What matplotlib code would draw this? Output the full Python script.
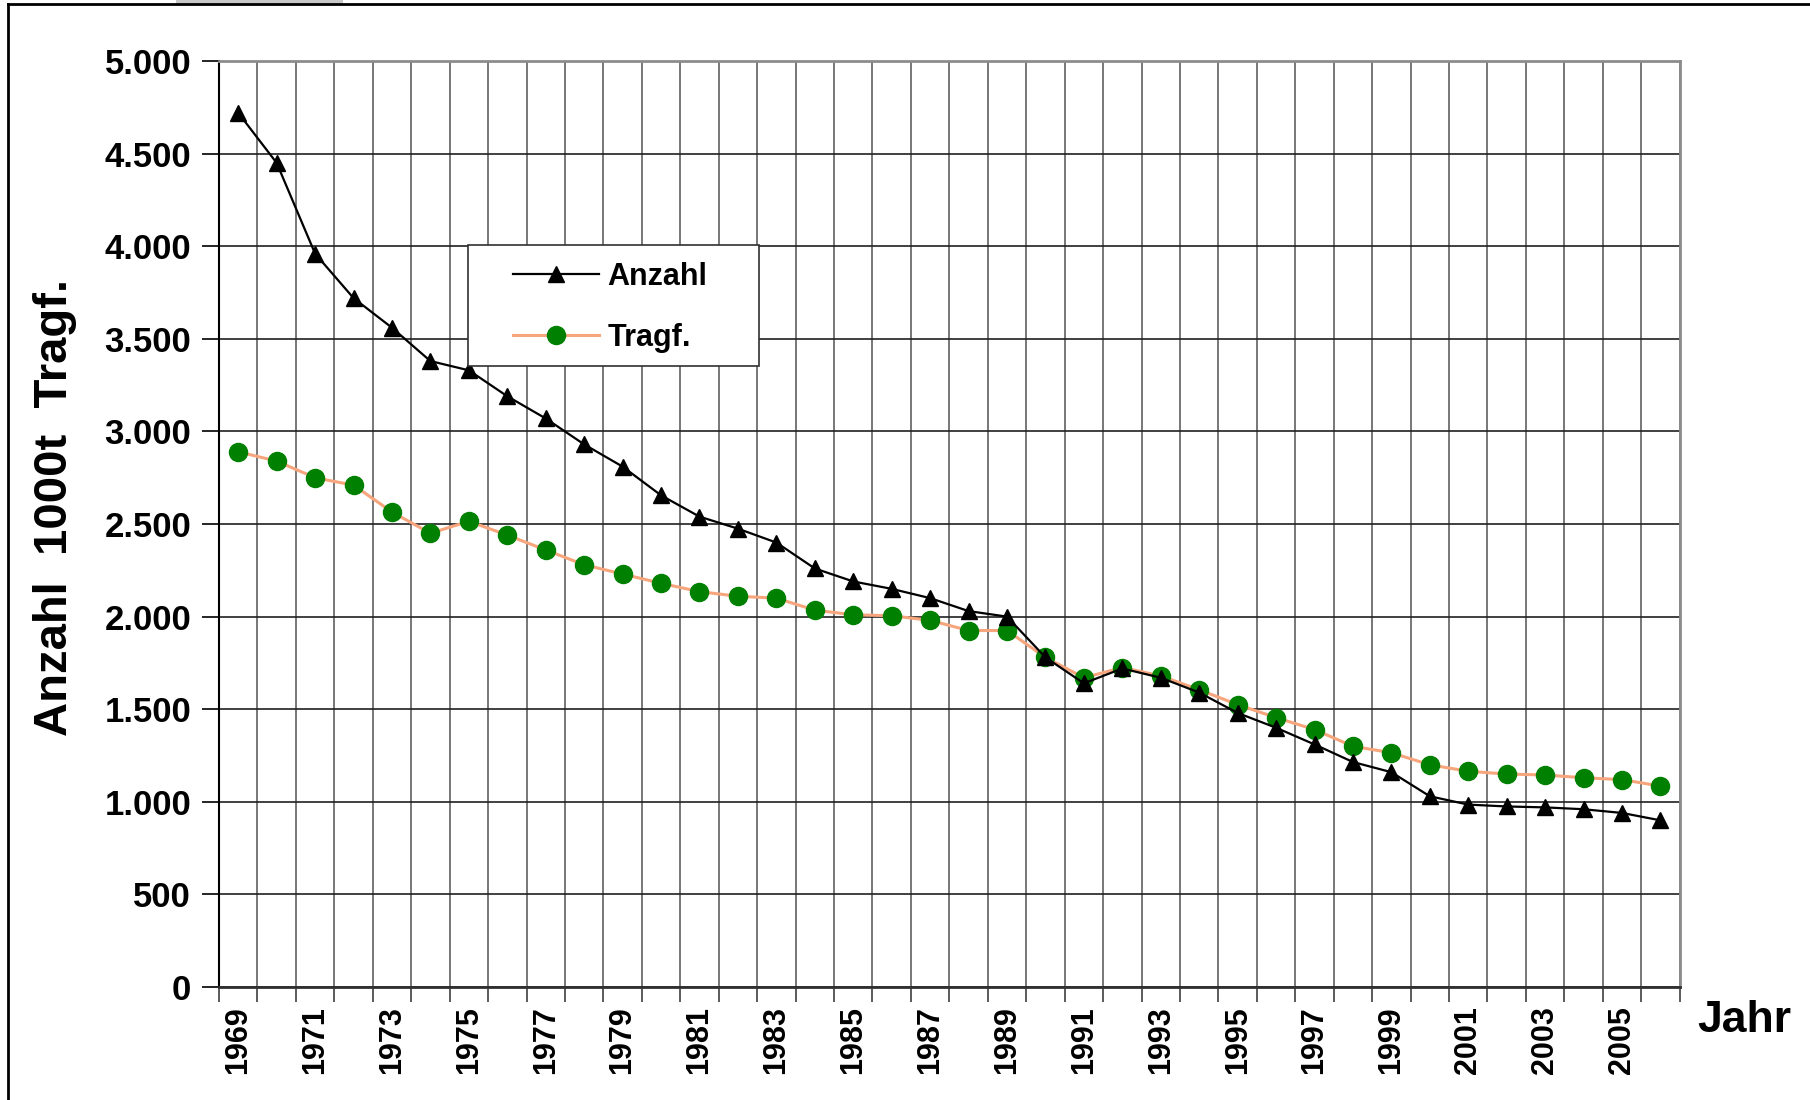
import numpy as np
import matplotlib.pyplot as plt
from matplotlib.ticker import FuncFormatter, FixedLocator
from matplotlib.patches import Rectangle
from matplotlib.lines import Line2D

plt.rcParams['font.family'] = ['Liberation Sans', 'DejaVu Sans']
plt.rcParams['font.weight'] = 'bold'

# Data
years = np.arange(1969, 2007)
anzahl = [4720, 4450, 3960, 3720, 3560, 3380, 3330, 3190, 3070, 2930,
          2810, 2655, 2540, 2475, 2400, 2260, 2190, 2150, 2100, 2030,
          2000, 1780, 1640, 1720, 1670, 1590, 1480, 1400, 1310, 1215,
          1160, 1030, 985, 975, 970, 960, 940, 900]
tragf = [2890, 2840, 2750, 2710, 2565, 2450, 2515, 2440, 2360, 2280,
         2230, 2180, 2135, 2110, 2100, 2035, 2010, 2005, 1980, 1925,
         1925, 1780, 1670, 1725, 1680, 1605, 1525, 1455, 1390, 1300,
         1265, 1200, 1165, 1150, 1145, 1130, 1120, 1085]
y_ticks = np.arange(0, 5001, 500)

fig = plt.figure(figsize=(18.1, 11), dpi=100)
ax = fig.add_axes([0.121, 0.1027, 0.807, 0.8418])

x = np.arange(len(years))
ax.plot(x, tragf, color='#F6A57C', lw=2.2, marker='o', ms=13,
        mfc='#008000', mec='#008000', label='Tragf.', zorder=3)
ax.plot(x, anzahl, color='black', lw=1.6, marker='^', ms=12,
        mfc='black', mec='black', label='Anzahl', zorder=4)

ax.set_xlim(-0.5, len(years) - 0.5)
ax.set_ylim(0, 5000)

# category boundaries as grid, labels every other year at centers
bounds = np.arange(-0.5, len(years), 1.0)
ax.xaxis.set_major_locator(FixedLocator(bounds))
ax.xaxis.set_major_formatter(FuncFormatter(lambda v, p: ''))
ax.set_xticks(x[::2], minor=True)
ax.set_xticklabels([str(y) for y in years[::2]], minor=True, rotation=90,
                   fontsize=22, fontweight='bold')
ax.tick_params(axis='x', which='minor', length=0, pad=14)
ax.tick_params(axis='x', which='major', length=11, width=1.2, color='#404040')

ax.set_yticks(y_ticks)
ax.yaxis.set_major_formatter(FuncFormatter(lambda v, p: f'{int(v):,}'.replace(',', '.')))
ax.tick_params(axis='y', length=12, width=1.2, labelsize=25, pad=8)
for lab in ax.get_yticklabels():
    lab.set_fontweight('bold')

ax.grid(True, which='major', axis='x', color='#606060', lw=1.2)
ax.grid(True, which='major', axis='y', color='#202020', lw=1.2)
ax.set_axisbelow(True)

for s in ['top', 'right']:
    ax.spines[s].set_color('#8c8c8c')
    ax.spines[s].set_linewidth(2)
ax.spines['left'].set_linewidth(1.5)
ax.spines['bottom'].set_linewidth(2)
ax.spines['bottom'].set_color('#303030')

fig.text(55 / 1810, 1 - 508 / 1100, 'Anzahl  1000t  Tragf.', fontsize=34,
         fontweight='bold', rotation=90, ha='center', va='center')
fig.text(0.9375, 0.0727, 'Jahr', fontsize=32, fontweight='bold', ha='left', va='center')

# legend: frame drawn as a separate box
ax.add_patch(Rectangle((0.1704, 0.6706), 0.1992, 0.1304, transform=ax.transAxes,
                       facecolor='white', edgecolor='#303030', lw=1.2, zorder=5))
handles = [Line2D([], [], color='black', lw=1.6, marker='^', ms=12, mfc='black'),
           Line2D([], [], color='#F6A57C', lw=2.2, marker='o', ms=13,
                  mfc='#008000', mec='#008000')]
leg = ax.legend(handles, ['Anzahl', 'Tragf.'], loc='center',
                bbox_to_anchor=(0.268, 0.734), fontsize=22, frameon=False,
                borderpad=0, labelspacing=1.0, handlelength=2.8,
                handletextpad=0.28, borderaxespad=0)
leg.set_zorder(6)
for t in leg.get_texts():
    t.set_fontweight('bold')

# outer chart border (left and top) and small tab at top
fig.add_artist(Line2D([8 / 1810, 8 / 1810], [0, 1 - 4 / 1100], transform=fig.transFigure,
                      color='black', lw=2))
fig.add_artist(Line2D([8 / 1810, 1], [1 - 4 / 1100, 1 - 4 / 1100], transform=fig.transFigure,
                      color='black', lw=2))
fig.add_artist(Rectangle((176 / 1810, 1 - 4 / 1100), 167 / 1810, 4 / 1100,
                         transform=fig.transFigure, color='#c8c8c8', lw=0))

fig.savefig('out.png', dpi=100)
